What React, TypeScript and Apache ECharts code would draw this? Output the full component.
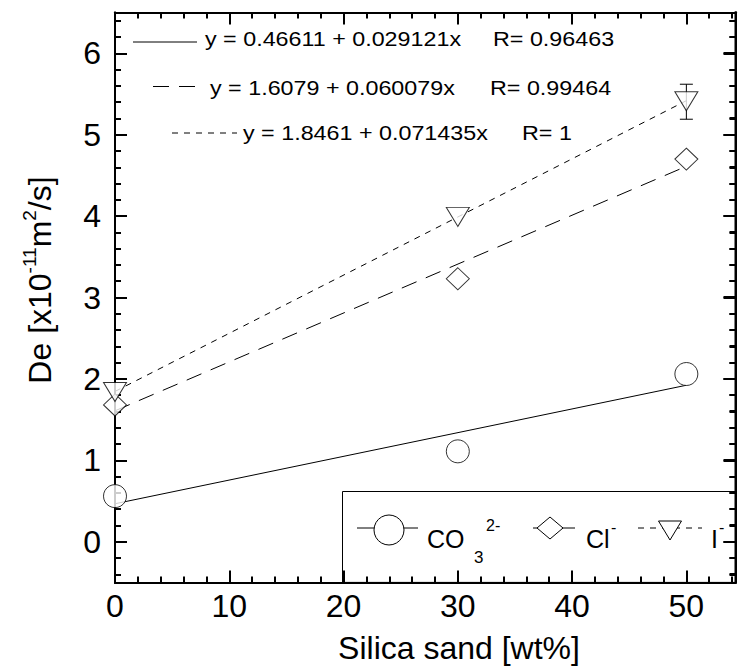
import React, { useEffect, useRef } from "react";
import * as echarts from "echarts";

// ---- data ----
const xValues = [0, 30, 50];
const co3Values = [0.56, 1.11, 2.06];
const clValues = [1.68, 3.23, 4.7];
const iValues = [1.84, 3.99, 5.41];
const errX = [50];
const errLow = [5.19];
const errHigh = [5.62];
const fitIntercepts = [0.46611, 1.6079, 1.8461];
const fitSlopes = [0.029121, 0.060079, 0.071435];
const fitInterceptTexts = ["0.46611", "1.6079", "1.8461"];
const fitSlopeTexts = ["0.029121", "0.060079", "0.071435"];
const fitRTexts = ["0.96463", "0.99464", "1"];
const fitXRange = [0, 50];
const xMajor = [0, 10, 20, 30, 40, 50];
const xMinor = [2, 4, 6, 8, 12, 14, 16, 18, 22, 24, 26, 28, 32, 34, 36, 38, 42, 44, 46, 48, 52, 54];
const yMajor = [0, 1, 2, 3, 4, 5, 6];
const yMinor = [-0.4, -0.2, 0.2, 0.4, 0.6, 0.8, 1.2, 1.4, 1.6, 1.8, 2.2, 2.4, 2.6, 2.8, 3.2, 3.4, 3.6, 3.8, 4.2, 4.4, 4.6, 4.8, 5.2, 5.4, 5.6, 5.8, 6.2, 6.4];

const FONT = "'Liberation Sans', Arial, sans-serif";
const X_MIN = 0, X_MAX = 54.3, Y_MIN = -0.5, Y_MAX = 6.5;
const GRID = { left: 115, top: 12.6, width: 620.5, height: 569.8 };
const MAJOR_LEN = 12, MINOR_LEN = 6;

const lineDashes: any[] = ["solid", [16, 10], [6, 6]];
const graphicDashes: any[] = [null, [16, 10], [6, 6]];

function makeAxis(kind: "x" | "y", position: string, ticks: number[], len: number, labels: boolean) {
  return {
    type: "value",
    min: kind === "x" ? X_MIN : Y_MIN,
    max: kind === "x" ? X_MAX : Y_MAX,
    position,
    axisLine: { show: true, onZero: false, lineStyle: { color: "#000", width: 2 } },
    splitLine: { show: false },
    axisTick: { show: true, inside: true, length: len, customValues: ticks, lineStyle: { color: "#000", width: 2 } },
    axisLabel: labels
      ? { show: true, customValues: ticks, fontSize: 32, color: "#000", fontFamily: FONT, margin: kind === "x" ? 8 : 14 }
      : { show: false },
  };
}

export default function App() {
  const ref = useRef<HTMLDivElement>(null);
  useEffect(() => {
    if (!ref.current) return;
    const chart = echarts.init(ref.current, null, { renderer: "svg" });

    const fitSeries = fitIntercepts.map((b, i) => ({
      type: "line",
      xAxisIndex: 0,
      yAxisIndex: 0,
      data: fitXRange.map((x) => [x, b + fitSlopes[i] * x]),
      showSymbol: false,
      symbol: "none",
      silent: true,
      lineStyle: { color: "#000", width: 1, type: lineDashes[i] },
      z: 2,
    }));

    const markerStyle = { color: "#fff", borderColor: "#000", borderWidth: 1 };
    const pts = (vals: number[]) => xValues.map((x, i) => [x, vals[i]]);

    const eqRows = [
      { lx1: 133, lx2: 197, ly: 42, tx: 205, ty: 39, rx: 493 },
      { lx1: 153, lx2: 198, ly: 86.5, tx: 210, ty: 87.5, rx: 490 },
      { lx1: 172, lx2: 237, ly: 133, tx: 243, ty: 132.5, rx: 522 },
    ];
    const eqGraphics: any[] = [];
    eqRows.forEach((r, i) => {
      eqGraphics.push({
        type: "line",
        shape: { x1: r.lx1, y1: r.ly, x2: r.lx2, y2: r.ly },
        style: { stroke: "#000", lineWidth: 1, lineDash: graphicDashes[i] },
        z: 10,
      });
      eqGraphics.push({
        type: "text",
        x: r.tx,
        y: r.ty,
        scaleX: 1.11,
        style: {
          text: `y = ${fitInterceptTexts[i]} + ${fitSlopeTexts[i]}x`,
          fontSize: 21,
          fontFamily: FONT,
          fill: "#000",
          align: "left",
          verticalAlign: "middle",
        },
        z: 10,
      });
      eqGraphics.push({
        type: "text",
        x: r.rx,
        y: r.ty,
        scaleX: 1.11,
        style: {
          text: `R= ${fitRTexts[i]}`,
          fontSize: 21,
          fontFamily: FONT,
          fill: "#000",
          align: "left",
          verticalAlign: "middle",
        },
        z: 10,
      });
    });

    const LY = 528;
    const RIGHT = GRID.left + GRID.width;
    const BOTTOM = GRID.top + GRID.height;
    const legendText = (text: string, x: number, y: number, size: number) => ({
      type: "text",
      x,
      y,
      style: { text, fontSize: size, fontFamily: FONT, fill: "#000", align: "left", verticalAlign: "middle" },
      z: 11,
    });
    const legendGraphics: any[] = [
      { type: "line", shape: { x1: RIGHT, y1: GRID.top - 1, x2: RIGHT, y2: BOTTOM + 1 }, style: { stroke: "#000", lineWidth: 2 }, z: 20 },
      {
        type: "rect",
        shape: { x: 342.5, y: 491.5, width: RIGHT - 342.5, height: BOTTOM - 491.5 },
        style: { fill: "none", stroke: "#000", lineWidth: 1 },
        z: 10,
      },
      // CO3
      { type: "line", shape: { x1: 357, y1: LY, x2: 418, y2: LY }, style: { stroke: "#000", lineWidth: 1 }, z: 10 },
      { type: "circle", shape: { cx: 389, cy: LY + 2, r: 15 }, style: { fill: "#fff", stroke: "#000", lineWidth: 1 }, z: 11 },
      legendText("CO", 427, 539, 25),
      legendText("3", 474, 557, 17),
      legendText("2-", 486, 525, 16),
      // Cl
      { type: "line", shape: { x1: 533, y1: LY, x2: 577, y2: LY }, style: { stroke: "#000", lineWidth: 1, lineDash: [16, 10] }, z: 10 },
      {
        type: "polygon",
        shape: { points: [[537, LY], [550, LY - 11], [563, LY], [550, LY + 11]] },
        style: { fill: "#fff", stroke: "#000", lineWidth: 1 },
        z: 11,
      },
      legendText("Cl", 586, 539, 25),
      legendText("-", 611, 527, 16),
      // I
      { type: "line", shape: { x1: 638, y1: LY, x2: 702, y2: LY }, style: { stroke: "#000", lineWidth: 1, lineDash: [6, 6] }, z: 10 },
      {
        type: "polygon",
        shape: { points: [[658.5, LY - 7], [681.5, LY - 7], [670, LY + 12]] },
        style: { fill: "#fff", stroke: "#000", lineWidth: 1 },
        z: 11,
      },
      legendText("I", 711, 539, 25),
      legendText("-", 719, 527, 16),
    ];

    const titleGraphics: any[] = [
      {
        type: "text",
        x: 40,
        y: 280,
        rotation: Math.PI / 2,
        style: {
          text: "{m|De [x10}{s|-11}{m|m}{s|2}{m|/s]}",
          align: "center",
          verticalAlign: "middle",
          rich: {
            m: { fontSize: 32, fontFamily: FONT, fill: "#000", lineHeight: 40 },
            s: { fontSize: 19, fontFamily: FONT, fill: "#000", lineHeight: 20, verticalAlign: "top" },
          },
        },
        z: 10,
      },
      {
        type: "text",
        x: 459,
        y: 648,
        style: {
          text: "Silica sand [wt%]",
          fontSize: 32,
          fontFamily: FONT,
          fill: "#000",
          align: "center",
          verticalAlign: "middle",
        },
        z: 10,
      },
    ];

    chart.setOption({
      animation: false,
      backgroundColor: "#fff",
      grid: { ...GRID, containLabel: false },
      xAxis: [
        makeAxis("x", "bottom", xMajor, MAJOR_LEN, true),
        makeAxis("x", "bottom", xMinor, MINOR_LEN, false),
        makeAxis("x", "top", xMajor, MAJOR_LEN, false),
        makeAxis("x", "top", xMinor, MINOR_LEN, false),
      ],
      yAxis: [
        makeAxis("y", "left", yMajor, MAJOR_LEN, true),
        makeAxis("y", "left", yMinor, MINOR_LEN, false),
        makeAxis("y", "right", yMajor, MAJOR_LEN, false),
        makeAxis("y", "right", yMinor, MINOR_LEN, false),
      ],
      series: [
        ...fitSeries,
        {
          type: "custom",
          xAxisIndex: 0,
          yAxisIndex: 0,
          data: errX.map((x, i) => [x, errLow[i], errHigh[i]]),
          encode: { x: 0, y: [1, 2] },
          z: 3,
          silent: true,
          renderItem: (_params: any, api: any) => {
            const x = api.value(0);
            const p1 = api.coord([x, api.value(2)]);
            const p2 = api.coord([x, api.value(1)]);
            const w = 6.5;
            const st = { stroke: "#000", lineWidth: 1 };
            return {
              type: "group",
              children: [
                { type: "line", shape: { x1: p1[0], y1: p1[1], x2: p2[0], y2: p2[1] }, style: st },
                { type: "line", shape: { x1: p1[0] - w, y1: p1[1], x2: p1[0] + w, y2: p1[1] }, style: st },
                { type: "line", shape: { x1: p2[0] - w, y1: p2[1], x2: p2[0] + w, y2: p2[1] }, style: st },
              ],
            };
          },
        },
        {
          name: "CO3",
          type: "scatter",
          data: pts(co3Values),
          symbol: "circle",
          symbolSize: 23,
          itemStyle: markerStyle,
          clip: false,
          z: 4,
        },
        {
          name: "Cl",
          type: "scatter",
          data: pts(clValues),
          symbol: "diamond",
          symbolSize: [23, 22],
          itemStyle: markerStyle,
          clip: false,
          z: 4,
        },
        {
          name: "I",
          type: "scatter",
          data: pts(iValues),
          symbol: "triangle",
          symbolSize: [23, 19],
          symbolRotate: 180,
          itemStyle: markerStyle,
          clip: false,
          z: 4,
        },
      ],
      graphic: [...eqGraphics, ...legendGraphics, ...titleGraphics],
    });

    // right-side inward ticks, placed through the library's own y scale
    const tickGraphics: any[] = [];
    const addTicks = (vals: number[], len: number) => {
      vals.forEach((v) => {
        const p = chart.convertToPixel({ xAxisIndex: 0, yAxisIndex: 0 }, [X_MAX, v]) as number[];
        if (!p) return;
        tickGraphics.push({
          type: "line",
          shape: { x1: p[0] - len, y1: Math.round(p[1]), x2: p[0], y2: Math.round(p[1]) },
          style: { stroke: "#000", lineWidth: 2 },
          z: 21,
        });
      });
    };
    addTicks(yMajor, MAJOR_LEN);
    addTicks(yMinor, MINOR_LEN);
    chart.setOption({ graphic: [...eqGraphics, ...legendGraphics, ...titleGraphics, ...tickGraphics] });

    return () => chart.dispose();
  }, []);
  return (
    <div
      ref={ref}
      style={{ position: "absolute", left: 0, top: 0, width: 739, height: 666, background: "#fff" }}
    />
  );
}
